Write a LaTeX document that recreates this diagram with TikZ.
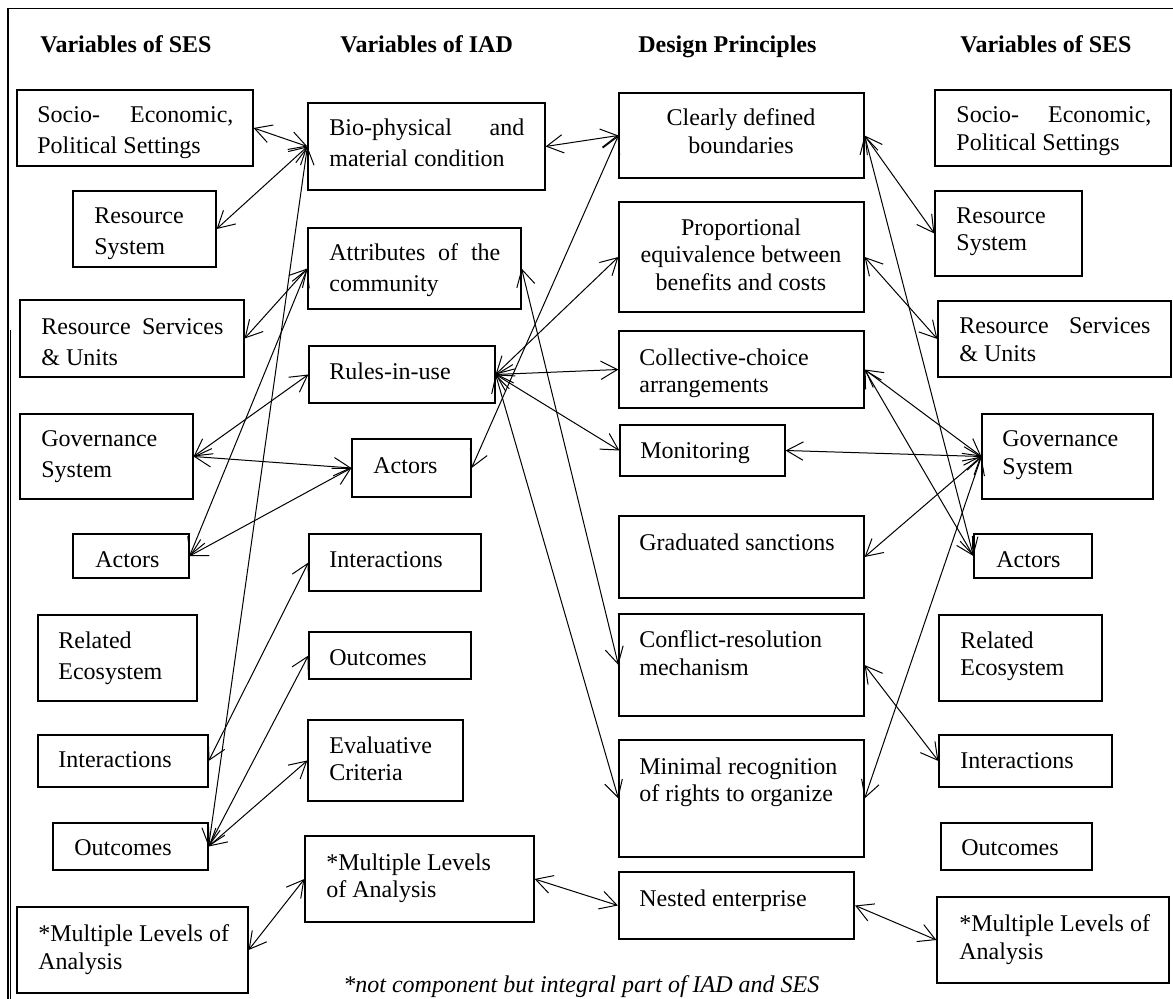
\documentclass[tikz,border=0pt]{standalone}
\usepackage{fontspec}
\setmainfont{Liberation Serif}
\usetikzlibrary{arrows.meta}
\newcommand\bx[5]{\node[box, minimum width={(#4-#2)*0.5pt}, minimum height={(#5-#3)*0.5pt}] (#1) at ({(#2+#4)/2},{(#3+#5)/2}) {};}
\newcommand\tx[5][]{\node[txt,#1] (t#2) at (#3,#4) {#5};}
\begin{document}
\begin{tikzpicture}[x=0.5pt,y=-0.5pt,
  box/.style={draw, rectangle, line width=0.6pt, inner sep=0pt},
  txt/.style={anchor=north west, inner sep=0pt, align=left, font=\fontsize{12pt}{13.9pt}\selectfont},
  wide/.style={font=\fontsize{12pt}{15.8pt}\selectfont},
  ctr/.style={anchor=north, align=center},
  head/.style={anchor=north west, inner sep=0pt, font=\fontsize{12pt}{14pt}\selectfont\bfseries},
  note/.style={anchor=north west, inner sep=0pt, font=\fontsize{12pt}{14pt}\selectfont\itshape},
  link/.style={{Straight Barb[length=8.3pt,width=9.2pt]}-{Straight Barb[length=8.3pt,width=9.2pt]}, line width=0.5pt},
  frame/.style={line width=0.6pt}
]
\useasboundingbox (0,0) rectangle (1173,999);
\draw[frame] (8,999) -- (8,8.7) -- (1173,8.7);
\draw[line width=0.4pt] (10.5,330) -- (10.5,999);

% headers
\node[head] (h1) at (40,35) {Variables of SES};
\node[head] (h2) at (340,35) {Variables of IAD};
\node[head] (h3) at (638,35) {Design Principles};
\node[head] (h4) at (960,35) {Variables of SES};

% left SES boxes
\bx{ses1}{17}{90}{253}{166}
\bx{ses2}{73}{191}{216}{267}
\bx{ses3}{20}{300}{244}{377}
\bx{ses4}{20}{414}{193}{499}
\bx{ses5}{73}{534}{189}{578}
\bx{ses6}{38}{615}{197}{701}
\bx{ses7}{38}{735}{208}{787}
\bx{ses8}{53}{823}{208}{870}
\bx{ses9}{17}{907}{248}{993}
% IAD boxes
\bx{iad1}{308}{103}{545}{190}
\bx{iad2}{308}{228}{521}{309}
\bx{iad3}{309}{346}{495}{403}
\bx{iad4}{352}{439}{471}{497}
\bx{iad5}{309}{534}{481}{591}
\bx{iad6}{309}{632}{471}{679}
\bx{iad7}{308}{720}{463}{801}
\bx{iad8}{305}{836}{534}{922}
% design principles
\bx{dp1}{619}{93}{864}{178}
\bx{dp2}{619}{202}{864}{312}
\bx{dp3}{619}{331}{864}{408}
\bx{dp4}{620}{425}{785}{476}
\bx{dp5}{619}{516}{864}{598}
\bx{dp6}{619}{614}{864}{716}
\bx{dp7}{619}{740}{864}{857}
\node[box, line width=1.1pt, minimum width={(854-619)*0.5pt}, minimum height={(939-872)*0.5pt}] (dp8) at ({(619+854)/2},{(872+939)/2}) {};
% right SES boxes
\bx{rses1}{935}{90}{1171}{166}
\bx{rses2}{935}{191}{1082}{276}
\bx{rses3}{938}{301}{1171}{377}
\bx{rses4}{982}{414}{1153}{499}
\bx{rses5}{974}{534}{1092}{578}
\bx{rses6}{939}{615}{1102}{701}
\bx{rses7}{939}{735}{1112}{787}
\bx{rses8}{941}{823}{1092}{870}
\bx{rses9}{937}{897}{1169}{983}

% texts left SES
\tx[wide]{ses1}{37}{106}{\makebox[98pt][s]{Socio- Economic,}\\Political Settings}
\tx[wide]{ses2}{94}{207}{Resource\\System}
\tx[wide]{ses3}{41}{318}{\makebox[91pt][s]{Resource Services}\\\& Units}
\tx[wide]{ses4}{41}{430}{Governance\\System}
\tx{ses5}{95}{551}{Actors}
\tx[wide]{ses6}{58}{631}{Related\\Ecosystem}
\tx{ses7}{58}{751}{Interactions}
\tx{ses8}{74}{839}{Outcomes}
\tx{ses9}{38}{924}{*Multiple Levels of\\Analysis}
% texts IAD
\tx[wide]{iad1}{329}{118}{\makebox[97.5pt][s]{Bio-physical and}\\material condition}
\tx[wide]{iad2}{329}{243}{\makebox[85.5pt][s]{Attributes of the}\\community}
\tx{iad3}{329}{362}{Rules-in-use}
\tx{iad4}{373}{457}{Actors}
\tx{iad5}{329}{551}{Interactions}
\tx{iad6}{329}{649}{Outcomes}
\tx{iad7}{329}{736}{Evaluative\\Criteria}
\tx{iad8}{326}{853}{*Multiple Levels\\of Analysis}
% texts DP
\tx[ctr]{dp1}{741}{108}{Clearly defined\\boundaries}
\tx[ctr]{dp2}{741}{218}{Proportional\\equivalence between\\benefits and costs}
\tx{dp3}{639}{348}{Collective-choice\\arrangements}
\tx{dp4}{640}{442}{Monitoring}
\tx{dp5}{639}{533}{Graduated sanctions}
\tx{dp6}{639}{630}{Conflict-resolution\\mechanism}
\tx{dp7}{639}{757}{Minimal recognition\\of rights to organize}
\tx{dp8}{639}{889}{Nested enterprise}
% texts right SES
\tx{rses1}{956}{106}{\makebox[97.5pt][s]{Socio- Economic,}\\Political Settings}
\tx{rses2}{956}{207}{Resource\\System}
\tx{rses3}{959}{317}{\makebox[95.5pt][s]{Resource Services}\\\& Units}
\tx{rses4}{1002}{430}{Governance\\System}
\tx{rses5}{996}{551}{Actors}
\tx{rses6}{960}{631}{Related\\Ecosystem}
\tx{rses7}{960}{752}{Interactions}
\tx{rses8}{961}{839}{Outcomes}
\tx{rses9}{959}{914}{*Multiple Levels of\\Analysis}

% footnote
\node[note] (fn) at (343,975) {*not component but integral part of IAD and SES};

% connectors SES -- IAD
\draw[link] (ses1.east) -- (iad1.west);
\draw[link] (ses2.east) -- (iad1.west);
\draw[link] (ses3.east) -- (iad2.west);
\draw[link] (ses5.east) -- (iad2.west);
\draw[link] (ses8.east) -- (iad1.west);
\draw[link] (ses4.east) -- (iad3.west);
\draw[link] (ses4.east) -- (iad4.west);
\draw[link] (ses5.east) -- (iad4.west);
\draw[link] (ses7.east) -- (iad5.west);
\draw[link] (ses8.east) -- (iad6.west);
\draw[link] (ses8.east) -- (iad7.west);
\draw[link] (ses9.east) -- (iad8.west);
% IAD -- DP
\draw[link] (iad1.east) -- (dp1.west);
\draw[link] (iad4.east) -- (dp1.west);
\draw[link] (iad3.east) -- (dp2.west);
\draw[link] (iad3.east) -- (dp3.west);
\draw[link] (iad3.east) -- (dp4.west);
\draw[link] (iad3.east) -- (dp7.west);
\draw[link] (iad2.east) -- (dp6.west);
\draw[link] (iad8.east) -- (dp8.west);
% DP -- right SES
\draw[link] (dp1.east) -- (rses2.west);
\draw[link] (dp1.east) -- (rses5.west);
\draw[link] (dp2.east) -- (rses3.west);
\draw[link] (dp3.east) -- (rses4.west);
\draw[link] (dp3.east) -- (rses5.west);
\draw[link] (dp4.east) -- (rses4.west);
\draw[link] (dp5.east) -- (rses4.west);
\draw[link] (dp7.east) -- (rses4.west);
\draw[link] (dp6.east) -- (rses7.west);
\draw[link] (dp8.east) -- (rses9.west);
\end{tikzpicture}
\end{document}
